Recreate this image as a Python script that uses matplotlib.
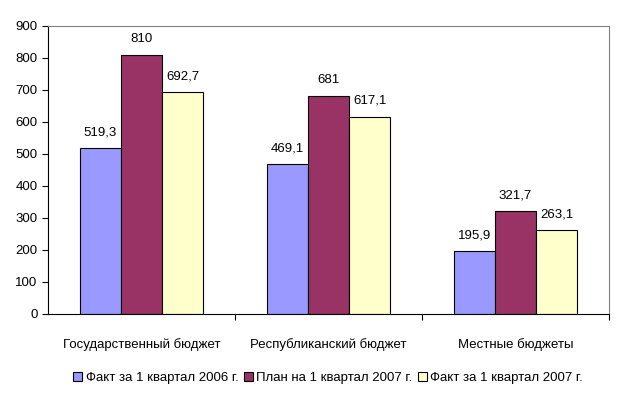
import matplotlib
matplotlib.use("Agg")
import matplotlib.pyplot as plt
import numpy as np

categories = ["Государственный бюджет", "Республиканский бюджет", "Местные бюджеты"]
series_names = ["Факт за 1 квартал 2006 г.", "План на 1 квартал 2007 г.", "Факт за 1 квартал 2007 г."]
fact_2006 = [519.3, 469.1, 195.9]
plan_2007 = [810, 681, 321.7]
fact_2007 = [692.7, 617.1, 263.1]
colors = ["#9999FF", "#993366", "#FFFFCC"]

plt.rcParams['font.family'] = ['Liberation Sans', 'DejaVu Sans']
plt.rcParams['font.size'] = 9.5

fig = plt.figure(figsize=(6.24, 3.95), dpi=100)
ax = fig.add_axes([48/624, 1-314/395, (609-48)/624, (314-26)/395])

x = np.arange(len(categories))
w = 0.22
data = [fact_2006, plan_2007, fact_2007]

def fmt(v):
    return ("%g" % v).replace(".", ",")

for i, (vals, c, name) in enumerate(zip(data, colors, series_names)):
    bars = ax.bar(x + (i-1)*w, vals, w, color=c, edgecolor="black", linewidth=0.8, label=name)
    for b, v in zip(bars, vals):
        ax.text(b.get_x()+b.get_width()/2, v + 30, fmt(v), ha="center", va="bottom", fontsize=9.5)

ax.set_xlim(-0.5, 2.5)
ax.set_ylim(0, 900)
ax.set_yticks(range(0, 901, 100))
ax.set_xticks([0.5, 1.5, 2.5], minor=False)
ax.set_xticklabels([])
ax.set_xticks(x, minor=True)
ax.set_xticklabels(categories, minor=True)
ax.tick_params(axis="x", which="minor", length=0, pad=17)
ax.tick_params(axis="x", which="major", length=4, direction="out", color="black")
ax.tick_params(axis="y", length=4, direction="out")
for s in ["top", "right"]:
    ax.spines[s].set_color("#808080")
for s in ["left", "bottom"]:
    ax.spines[s].set_color("black")

leg = fig.legend(loc="center", bbox_to_anchor=(328/624, 1-378/395), ncol=3, frameon=False,
                 handlelength=0.7, handleheight=0.7, handletextpad=0.25, columnspacing=0.4, fontsize=9.5)

fig.savefig("out.png", dpi=100)
